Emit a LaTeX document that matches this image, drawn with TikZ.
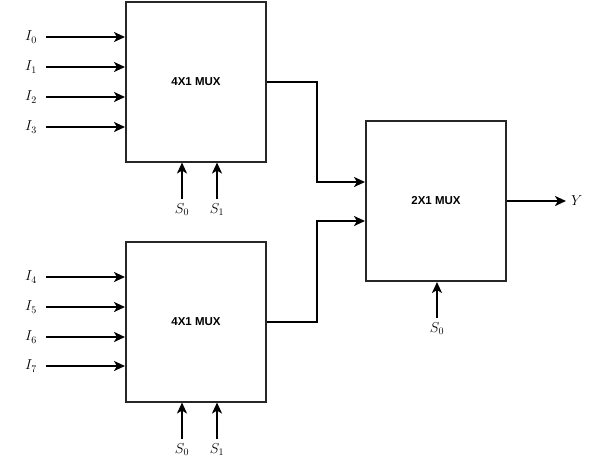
\documentclass[tikz,border=0pt]{standalone}
\usepackage{fontspec}
\newfontfamily\boxfont{Liberation Sans}
\usetikzlibrary{arrows.meta}
\begin{document}
\begin{tikzpicture}[x=1pt,y=-1pt,
  muxbox/.style={draw=black!85,line width=2pt,minimum width=140pt,minimum height=160pt,inner sep=0pt,font=\boxfont\bfseries\fontsize{11.5}{14}\selectfont},
  arr/.style={line width=2pt,-{Stealth[length=11pt,width=10pt,inset=3pt]}},
  lbl/.style={inner sep=0pt,font=\fontsize{14}{16}\selectfont}]
\useasboundingbox (0,0) rectangle (604,472);
\node[muxbox] (m1) at (196,81.5) {4X1 MUX};
\node[muxbox] (m2) at (196,321.5) {4X1 MUX};
\node[muxbox] (m3) at (436,201) {2X1 MUX};
% inputs top
\foreach \n/\yy in {0/37,1/67,2/97,3/127}{
  \node[lbl,anchor=east] (i\n) at (37,\yy) {$I_{\n}$};
  \coordinate (ci\n) at (46,\yy);
  \draw[arr] (ci\n) -- (ci\n -| m1.west);
}
\foreach \n/\yy in {4/277,5/307,6/337,7/366}{
  \node[lbl,anchor=east] (i\n) at (37,\yy) {$I_{\n}$};
  \coordinate (ci\n) at (46,\yy);
  \draw[arr] (ci\n) -- (ci\n -| m2.west);
}
% selects top
\node[lbl,anchor=north] (sa0) at (182,203) {$S_0$};
\node[lbl,anchor=north] (sa1) at (217,203) {$S_1$};
\draw[arr] ([yshift=4pt]sa0.north) -- (sa0 |- m1.south);
\draw[arr] ([yshift=4pt]sa1.north) -- (sa1 |- m1.south);
% selects bottom
\node[lbl,anchor=north] (sb0) at (182,443) {$S_0$};
\node[lbl,anchor=north] (sb1) at (217,443) {$S_1$};
\draw[arr] ([yshift=4pt]sb0.north) -- (sb0 |- m2.south);
\draw[arr] ([yshift=4pt]sb1.north) -- (sb1 |- m2.south);
% select 2x1
\node[lbl,anchor=north] (sc0) at (437,322) {$S_0$};
\draw[arr] ([yshift=4pt]sc0.north) -- (sc0 |- m3.south);
% connections
\coordinate (ja) at (317,182);
\coordinate (jb) at (317,221);
\draw[arr] (m1.east) -| (ja) -- (ja -| m3.west);
\draw[arr] (m2.east) -| (jb) -- (jb -| m3.west);
% output
\node[lbl,anchor=west] (y) at (571,201) {$Y$};
\coordinate (yo) at (566,201);
\draw[arr] (m3.east) -- (yo);
\end{tikzpicture}
\end{document}
